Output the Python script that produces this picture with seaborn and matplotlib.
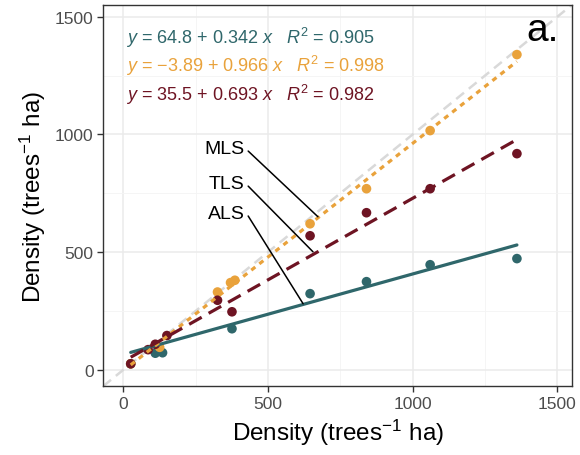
import numpy as np
import pandas as pd
import matplotlib
matplotlib.use("Agg")
import matplotlib.pyplot as plt
import seaborn as sns

# ---- data ----
als_x = [25, 110, 135, 375, 645, 840, 1060, 1360]
als_y = [25, 70, 72, 174, 323, 374, 446, 472]
mls_x = [25, 125, 325, 370, 385, 645, 840, 1060, 1360]
mls_y = [25, 95, 330, 370, 380, 620, 769, 1016, 1339]
tls_x = [25, 85, 110, 150, 325, 375, 645, 840, 1060, 1360]
tls_y = [25, 85, 108, 145, 295, 246, 569, 667, 769, 918]

series_names = ["ALS", "MLS", "TLS"]
intercepts = [64.8, -3.89, 35.5]
slopes = [0.342, 0.966, 0.693]
r2_values = [0.905, 0.998, 0.982]
eq_labels = [r"$y$ = 64.8 + 0.342 $x$   $R^2$ = 0.905",
             r"$y$ = $-$3.89 + 0.966 $x$   $R^2$ = 0.998",
             r"$y$ = 35.5 + 0.693 $x$   $R^2$ = 0.982"]
xticks = [0, 500, 1000, 1500]
yticks = [0, 500, 1000, 1500]

colors = {"ALS": "#2F676B", "MLS": "#E9A23B", "TLS": "#6E1423"}
styles = {"ALS": "-", "MLS": (0, (1.6, 1.6)), "TLS": (0, (4.5, 2.5))}

# ---- theme ----
sns.set_theme(style="white")
plt.rcParams["font.family"] = ["Liberation Sans", "DejaVu Sans"]
plt.rcParams["mathtext.fontset"] = "custom"
plt.rcParams["mathtext.rm"] = "Liberation Sans"
plt.rcParams["mathtext.it"] = "Liberation Sans:italic"
plt.rcParams["mathtext.bf"] = "Liberation Sans:bold"

fig = plt.figure(figsize=(5.8, 4.56), dpi=100)
ax = fig.add_axes([0.178, 0.151, 0.808, 0.836])

df = pd.concat([
    pd.DataFrame({"x": als_x, "y": als_y, "method": "ALS"}),
    pd.DataFrame({"x": mls_x, "y": mls_y, "method": "MLS"}),
    pd.DataFrame({"x": tls_x, "y": tls_y, "method": "TLS"}),
], ignore_index=True)

# 1:1 reference line
lim = (-70, 1550)
ref = pd.DataFrame({"x": list(lim), "y": list(lim)})
sns.lineplot(data=ref, x="x", y="y", color="#D9D9D9", linewidth=1.8,
             linestyle=(0, (4, 2.5)), ax=ax, zorder=1)

# points
sns.scatterplot(data=df, x="x", y="y", hue="method", palette=colors,
                s=48, edgecolor="none", legend=False, ax=ax, zorder=3)

# fitted lines
for name, a, b in zip(series_names, intercepts, slopes):
    sub = df[df.method == name]
    xs = np.array([sub.x.min(), sub.x.max()])
    fit = pd.DataFrame({"x": xs, "y": a + b * xs})
    sns.lineplot(data=fit, x="x", y="y", color=colors[name], linewidth=2.3,
                 linestyle=styles[name], ax=ax, zorder=4)

# equations
for i, (name, lab) in enumerate(zip(series_names, eq_labels)):
    ax.text(8, 1415 - i * 121, lab, color=colors[name], fontsize=13,
            va="center", ha="left", zorder=6)

# pointer labels
pointers = [("MLS", 939, 672, 650), ("TLS", 790, 655, 501), ("ALS", 663, 621, 280)]
for lab, ty, ex, ey in pointers:
    ax.text(418, ty, lab, fontsize=14, ha="right", va="center", color="black", zorder=6)
    ax.plot([431, ex], [ty - 10, ey], color="black", linewidth=1.1, zorder=6)

ax.text(1505, 1445, "a.", fontsize=28, ha="right", va="center", color="black")

ax.set_xlim(*lim)
ax.set_ylim(*lim)
ax.set_xticks(xticks)
ax.set_yticks(yticks)
ax.set_xticks([250, 750, 1250], minor=True)
ax.set_yticks([250, 750, 1250], minor=True)
ax.grid(True, which="major", color="#EBEBEB", linewidth=1.1, zorder=0)
ax.grid(True, which="minor", color="#F4F4F4", linewidth=0.6, zorder=0)
ax.set_axisbelow(True)
for sp in ax.spines.values():
    sp.set_color("#333333")
    sp.set_linewidth(1.0)
ax.tick_params(axis="both", which="major", length=4, width=1.0, color="#333333",
               labelsize=12.5, labelcolor="#4D4D4D", pad=3, bottom=True, left=True)
ax.tick_params(axis="both", which="minor", length=0)

ax.set_xlabel("Density (trees$^{-1}$ ha)", fontsize=17.5, color="black", labelpad=4)
ax.set_ylabel("Density (trees$^{-1}$ ha)", fontsize=17.5, color="black", labelpad=5)

fig.savefig("out.png", dpi=100)
